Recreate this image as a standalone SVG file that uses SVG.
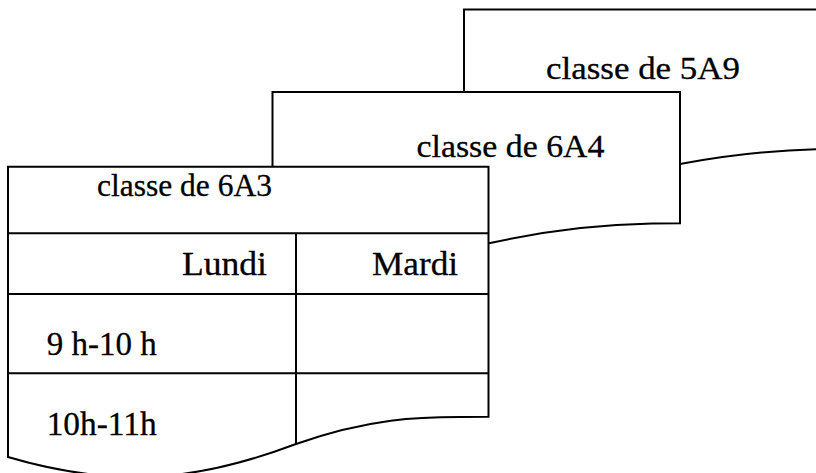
<svg xmlns="http://www.w3.org/2000/svg" width="816" height="473" viewBox="0 0 816 473">
<style>
.sheet{fill:#fff;stroke:#000;stroke-width:2;stroke-linejoin:miter}
.ln{fill:none;stroke:#000;stroke-width:2}
text{font-family:"Liberation Serif","Times New Roman",serif;fill:#000;stroke:#000;stroke-width:0.3}
.h{font-size:31.5px}
.c{font-size:34px}
</style>
<rect width="816" height="473" fill="#fff"/>
<g id="sheet-5A9">
<path class="sheet" d="M464 210 L464 9.5 L830 9.5 L830 149 C775 149.5 722 156 680 164 C600 180 530 205 464 210 Z"/>
<text class="h" x="546" y="78.5" textLength="194" lengthAdjust="spacingAndGlyphs">classe de 5A9</text>
</g>
<g id="sheet-6A4">
<path class="sheet" d="M272.5 280 L272.5 92 L680 92 L680 223.3 L652 223.6 C595 224.5 540 232 489 243.3 C420 260 350 282 272.5 280 Z"/>
<text class="h" x="416.5" y="156.7" textLength="188" lengthAdjust="spacingAndGlyphs">classe de 6A4</text>
</g>
<g id="sheet-6A3">
<path class="sheet" d="M8 457 L8 166.7 L488.5 166.7 L488.5 416.7 L460 417 C420 417 370 418 296 444 C200 480 120 490 8 457 Z"/>
<text class="h" x="97" y="196" textLength="175" lengthAdjust="spacingAndGlyphs">classe de 6A3</text>
</g>
<g id="table-lines">
<line class="ln" x1="8" y1="233.3" x2="488.5" y2="233.3"/>
<line class="ln" x1="8" y1="294" x2="488.5" y2="294"/>
<line class="ln" x1="8" y1="373.3" x2="488.5" y2="373.3"/>
<line class="ln" x1="296" y1="233.3" x2="296" y2="444"/>
</g>
<g id="cell-lundi"><text class="c" x="182" y="275" textLength="85" lengthAdjust="spacingAndGlyphs">Lundi</text></g>
<g id="cell-mardi"><text class="c" x="372" y="275" textLength="86" lengthAdjust="spacingAndGlyphs">Mardi</text></g>
<g id="cell-9h"><text class="c" x="46.7" y="354.5" textLength="110" lengthAdjust="spacingAndGlyphs">9 h-10 h</text></g>
<g id="cell-10h"><text class="c" x="46.7" y="435" textLength="110" lengthAdjust="spacingAndGlyphs">10h-11h</text></g>
</svg>
